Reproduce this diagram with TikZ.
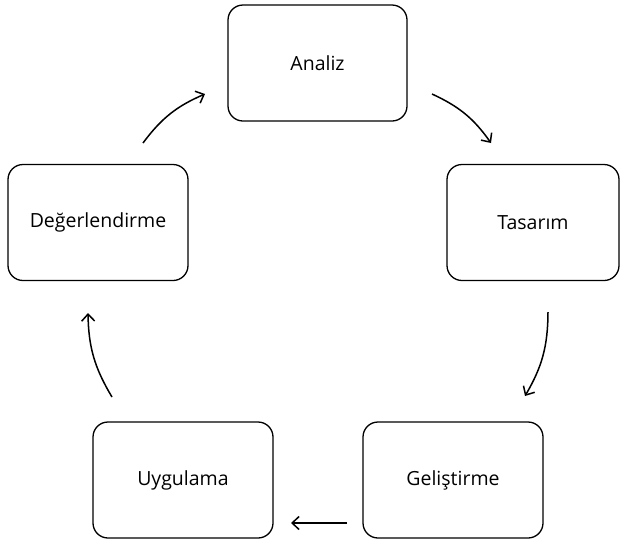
\documentclass[tikz,border=0pt]{standalone}
\usepackage{fontspec}
\setmainfont{Open Sans}
\usetikzlibrary{arrows.meta,positioning}

\begin{document}
\begin{tikzpicture}[x=1pt, y=-1pt,
    stage/.style={rectangle, rounded corners=15pt, draw, line width=1.3pt, minimum width=180pt, minimum height=116pt, inner sep=0pt, font=\fontsize{19.5}{22}\selectfont},
    flow/.style={line width=1.5pt, -{Straight Barb[length=7pt, width=13pt]}},
    >=Stealth
]
    \useasboundingbox (0,0) rectangle (621,542);

    % Stages
    \node[stage, minimum width=179pt] (analiz) at (317.5,63) {Analiz};
    \node[stage, minimum width=172pt] (tasarim) at (533,222.5) {Tasarım};
    \node[stage] (gelistirme) at (453,480) {Geliştirme};
    \node[stage] (uygulama) at (183,480) {Uygulama};
    \node[stage] (degerlendirme) at (98,222.5) {Değerlendirme};

    % Arrow ends
    \coordinate (at1) at (432,94);
    \coordinate (at2) at (491,143);
    \coordinate (tg1) at (548,312);
    \coordinate (tg2) at (525,396);
    \coordinate (gu1) at (347,523);
    \coordinate (gu2) at (291,523);
    \coordinate (ud1) at (112,397);
    \coordinate (ud2) at (88,313);
    \coordinate (da1) at (143,143);
    \coordinate (da2) at (205,94);

    % Cycle
    \draw[flow] (at1) to[bend left=15] (at2);
    \draw[flow] (tg1) to[bend left=15] (tg2);
    \draw[flow] (gu1) -- (gu2);
    \draw[flow] (ud1) to[bend left=15] (ud2);
    \draw[flow] (da1) to[bend left=15] (da2);
\end{tikzpicture}
\end{document}
